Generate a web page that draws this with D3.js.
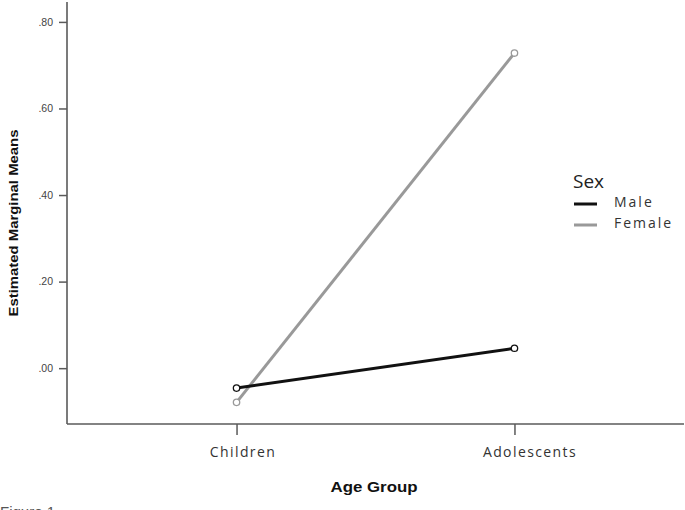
<!DOCTYPE html>
<html>
<head>
<meta charset="utf-8">
<script src="https://cdn.jsdelivr.net/npm/d3@7"></script>
<style>
  html, body { margin: 0; padding: 0; background: #fff; }
  svg { display: block; }
</style>
</head>
<body>
<svg id="chart" width="685" height="510"></svg>
<script>
// ---- data ----
const categories = ["Children", "Adolescents"];
const seriesNames = ["Male", "Female"];
const maleValues = [-0.046, 0.046];
const femaleValues = [-0.079, 0.728];
const yTickValues = [0.0, 0.2, 0.4, 0.6, 0.8];
const yTickLabels = [".00", ".20", ".40", ".60", ".80"];
const xTitle = "Age Group";
const yTitle = "Estimated Marginal Means";
const legendTitle = "Sex";
const caption = "Figure 1";

const series = [
  { name: seriesNames[0], values: maleValues, color: "#111111" },
  { name: seriesNames[1], values: femaleValues, color: "#999999" }
];

const svg = d3.select("#chart");
const plotLeft = 67, plotRight = 684, plotTop = 2, plotBottom = 424;

const x = d3.scalePoint().domain(categories).range([plotLeft, plotRight]).padding(0.61);
const y = d3.scaleLinear().domain([-0.129, 0.846]).range([plotBottom, plotTop]);

const axisColor = "#5a5a5a";

// Y axis
const yAxis = svg.append("g")
  .attr("transform", `translate(${plotLeft},0)`)
  .call(d3.axisLeft(y).tickValues(yTickValues)
    .tickFormat((d, i) => yTickLabels[i]).tickSize(8).tickSizeOuter(0).tickPadding(6));
yAxis.select(".domain").remove();
yAxis.selectAll(".tick line").attr("stroke", axisColor).attr("stroke-width", 1.5);
yAxis.selectAll(".tick text")
  .attr("font-family", "Liberation Sans, Arial, sans-serif")
  .attr("font-size", 10.5).attr("fill", "#444");
svg.append("line").attr("x1", plotLeft).attr("x2", plotLeft).attr("y1", plotTop).attr("y2", plotBottom)
  .attr("stroke", axisColor).attr("stroke-width", 1.6);

// X axis
const xAxis = svg.append("g")
  .attr("transform", `translate(0,${plotBottom})`)
  .call(d3.axisBottom(x).tickSize(11).tickSizeOuter(0).tickPadding(10));
xAxis.select(".domain").remove();
xAxis.selectAll(".tick line").attr("stroke", axisColor).attr("stroke-width", 1.5);
const xLabelShift = [6, 15];
xAxis.selectAll(".tick text")
  .attr("font-family", "Open Sans, sans-serif")
  .attr("font-size", 14).attr("fill", "#333")
  .attr("letter-spacing", "1.4px")
  .attr("dx", (d, i) => xLabelShift[i])
  .attr("y", 23).attr("dy", "0.71em");
svg.append("line").attr("x1", plotLeft).attr("x2", plotRight).attr("y1", plotBottom).attr("y2", plotBottom)
  .attr("stroke", axisColor).attr("stroke-width", 1.6);

// Axis titles
svg.append("text").text(xTitle)
  .attr("x", 374).attr("y", 492).attr("text-anchor", "middle")
  .attr("font-family", "Liberation Sans, Arial, sans-serif").attr("font-weight", "bold")
  .attr("font-size", 15).attr("fill", "#111")
  .attr("textLength", 87).attr("lengthAdjust", "spacingAndGlyphs");

svg.append("text").text(yTitle)
  .attr("transform", "translate(18,223) rotate(-90)")
  .attr("text-anchor", "middle")
  .attr("font-family", "Liberation Sans, Arial, sans-serif").attr("font-weight", "bold")
  .attr("font-size", 13.5).attr("fill", "#111")
  .attr("textLength", 187).attr("lengthAdjust", "spacingAndGlyphs");

// Lines and markers
const line = d3.line().x((d, i) => x(categories[i])).y(d => y(d));
const g = svg.append("g");
series.slice().reverse().forEach(s => {
  g.append("path").datum(s.values)
    .attr("d", line).attr("fill", "none")
    .attr("stroke", s.color).attr("stroke-width", 3);
});
series.forEach(s => {
  g.selectAll(null).data(s.values).enter().append("circle")
    .attr("cx", (d, i) => x(categories[i])).attr("cy", d => y(d))
    .attr("r", 3.2).attr("fill", "#fff")
    .attr("stroke", s.color).attr("stroke-width", 1.3);
});

// Legend
const lg = svg.append("g");
lg.append("text").text(legendTitle).attr("x", 573).attr("y", 188)
  .attr("font-family", "Open Sans, sans-serif").attr("font-size", 19).attr("fill", "#222");
const legendY = [204, 225];
series.forEach((s, i) => {
  lg.append("line").attr("x1", 574).attr("x2", 597)
    .attr("y1", legendY[i]).attr("y2", legendY[i])
    .attr("stroke", s.color).attr("stroke-width", 3);
  lg.append("text").text(s.name).attr("x", 614).attr("y", legendY[i] + 3)
    .attr("font-family", "Open Sans, sans-serif").attr("font-size", 14)
    .attr("letter-spacing", "2px").attr("fill", "#333");
});

// Caption at the bottom edge (cut off in the reference too)
svg.append("text").text(caption).attr("x", 0).attr("y", 517)
  .attr("font-family", "Liberation Sans, Arial, sans-serif").attr("font-size", 15).attr("fill", "#555");
</script>
</body>
</html>
